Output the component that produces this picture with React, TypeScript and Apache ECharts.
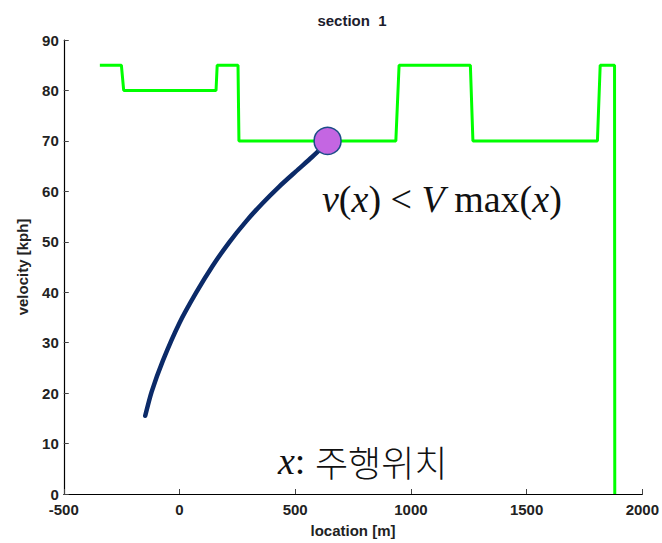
import React, { useEffect, useRef } from "react";
import * as echarts from "echarts";

// Speed-limit profile (green step line): [location m, velocity kph]
const limitX = [-344, -251, -241, 158, 163, 253, 257, 935, 949, 1257, 1268, 1806, 1818, 1880, 1881];
const limitY = [85, 85, 80, 80, 85, 85, 70, 70, 85, 85, 70, 70, 85, 85, 0];

// Vehicle velocity trajectory (navy curve)
const curveX = [-148, -120, -72, 0, 72, 143, 215, 287, 358, 430, 502, 573, 624];
const curveY = [15.5, 20.3, 26.4, 33.9, 39.9, 45.2, 49.9, 54.0, 57.6, 60.9, 63.9, 66.8, 69.0];

// Current point (purple marker)
const markerX = [640];
const markerY = [70];

const xTicks = { min: -500, max: 2000, interval: 500 };
const yTicks = { min: 0, max: 90, interval: 10 };

const titleText = "section  1";
const xName = "location [m]";
const yName = "velocity [kph]";

export default function App() {
  const ref = useRef<HTMLDivElement>(null);
  useEffect(() => {
    if (!ref.current) return;
    const chart = echarts.init(ref.current, null, { renderer: "svg" });
    const sans = "'Liberation Sans', Arial, sans-serif";
    const labelStyle = {
      fontFamily: sans,
      fontSize: 15,
      fontWeight: "bold" as const,
      color: "#222",
    };
    chart.setOption({
      animation: false,
      backgroundColor: "#ffffff",
      grid: { left: 63.75, top: 40, width: 582.5, height: 454.5, containLabel: false },
      xAxis: {
        type: "value",
        min: xTicks.min,
        max: xTicks.max,
        interval: xTicks.interval,
        name: xName,
        nameLocation: "middle",
        nameGap: 29,
        nameTextStyle: labelStyle,
        axisLine: { show: true, onZero: false, lineStyle: { color: "#000", width: 1.2 } },
        axisTick: { show: true, inside: true, length: 5, lineStyle: { color: "#444" } },
        axisLabel: { ...labelStyle, margin: 8, formatter: (v: number) => String(v) },
        splitLine: { show: false },
      },
      yAxis: {
        type: "value",
        min: yTicks.min,
        max: yTicks.max,
        interval: yTicks.interval,
        name: yName,
        nameLocation: "middle",
        nameGap: 34,
        nameTextStyle: labelStyle,
        axisLine: { show: true, onZero: false, lineStyle: { color: "#000", width: 1.2 } },
        axisTick: { show: true, inside: true, length: 5, lineStyle: { color: "#444" } },
        axisLabel: { ...labelStyle, margin: 5, verticalAlign: "middle" },
        splitLine: { show: false },
      },
      series: [
        {
          type: "line",
          data: limitX.map((x, i) => [x, limitY[i]]),
          showSymbol: false,
          symbol: "none",
          lineStyle: { color: "#00ff00", width: 3 },
          z: 2,
        },
        {
          type: "line",
          data: curveX.map((x, i) => [x, curveY[i]]),
          showSymbol: false,
          symbol: "none",
          smooth: 0.25,
          lineStyle: { color: "#0b2a68", width: 4.5, cap: "round" },
          z: 3,
        },
        {
          type: "scatter",
          data: markerX.map((x, i) => [x, markerY[i]]),
          symbol: "circle",
          symbolSize: 27,
          itemStyle: { color: "#c466e2", borderColor: "#1d4c88", borderWidth: 1.5, opacity: 1 },
          z: 4,
        },
      ],
      graphic: [
        {
          type: "text",
          x: 352,
          y: 20,
          style: {
            text: titleText,
            fontFamily: sans,
            fontSize: 15,
            fontWeight: "bold",
            fill: "#1c1c2c",
            align: "center",
            verticalAlign: "middle",
          },
        },
        {
          type: "text",
          x: 322,
          y: 199,
          style: {
            text: "{i|v}{n|(}{i|x}{n|) < }{i|V}{n| max(}{i|x}{n|)}",
            verticalAlign: "middle",
            align: "left",
            fill: "#111",
            rich: {
              i: { fontFamily: "'Liberation Serif', serif", fontStyle: "italic", fontSize: 38, fill: "#111" },
              n: { fontFamily: "'Liberation Serif', serif", fontSize: 38, fill: "#111" },
            },
          },
        },
        {
          type: "text",
          x: 278,
          y: 461,
          style: {
            text: "{i|x}{n|: }{k|주행위치}",
            verticalAlign: "middle",
            align: "left",
            fill: "#111",
            rich: {
              i: { fontFamily: "'Liberation Serif', serif", fontStyle: "italic", fontSize: 38, fill: "#111" },
              n: { fontFamily: "'Liberation Serif', serif", fontSize: 38, fill: "#111" },
              k: { fontFamily: "'Noto Sans CJK KR', sans-serif", fontSize: 36, fontWeight: 300, fill: "#111" },
            },
          },
        },
      ],
    });
    return () => chart.dispose();
  }, []);
  return (
    <div
      ref={ref}
      style={{ position: "fixed", left: 0, top: 0, width: 662, height: 543, background: "#fff" }}
    />
  );
}
